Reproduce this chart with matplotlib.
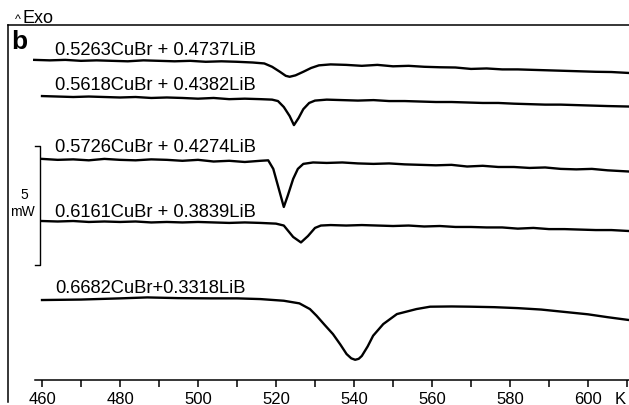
import matplotlib.pyplot as plt
import numpy as np

plt.rcParams['font.family'] = ['Liberation Sans', 'DejaVu Sans']

# DSC traces, heat flow in mW relative to the start of each trace (endo down)
t1 = [458, 462, 466, 470, 474, 478, 482, 486, 490, 494, 498, 502, 506, 510, 514, 517, 519, 521, 522.5, 523.5,
      525, 527, 529, 531, 534, 538, 542, 546, 550, 554, 558, 562, 566, 570, 574, 578, 582, 586, 590, 594,
      598, 602, 606, 610.5]
q1 = [0, -0.02, 0, -0.04, -0.02, -0.04, -0.06, -0.02, -0.04, -0.06, -0.04, -0.08, -0.06, -0.08, -0.11, -0.15,
      -0.29, -0.50, -0.67, -0.71, -0.65, -0.50, -0.34, -0.23, -0.19, -0.21, -0.25, -0.21, -0.27, -0.25, -0.29,
      -0.31, -0.32, -0.38, -0.36, -0.40, -0.40, -0.42, -0.44, -0.46, -0.48, -0.50, -0.51, -0.55]

t2 = [460, 464, 468, 472, 476, 480, 484, 488, 492, 496, 500, 504, 508, 512, 516, 519, 520.5, 522, 523.5, 524.6,
      525.8, 527, 528.5, 530, 533, 537, 541, 545, 549, 553, 557, 561, 565, 569, 573, 577, 581, 585, 589, 593,
      597, 601, 605, 610.5]
q2 = [0, -0.02, -0.04, -0.02, -0.04, -0.06, -0.04, -0.08, -0.06, -0.08, -0.11, -0.08, -0.13, -0.11, -0.13,
      -0.15, -0.21, -0.46, -0.84, -1.22, -0.92, -0.55, -0.29, -0.19, -0.15, -0.17, -0.19, -0.17, -0.21, -0.21,
      -0.23, -0.25, -0.25, -0.27, -0.29, -0.29, -0.32, -0.34, -0.36, -0.36, -0.38, -0.40, -0.42, -0.44]

t3 = [460, 464, 468, 472, 476, 480, 484, 488, 492, 496, 500, 504, 508, 512, 516, 518, 519.3, 520.5, 522, 523,
      524.4, 525.6, 527, 529.5, 533, 537, 541, 545, 549, 553, 557, 561, 565, 569, 573, 577, 581, 585, 589, 593,
      597, 601, 605, 610.5]
q3 = [0, -0.04, -0.02, -0.06, 0, -0.04, -0.06, -0.02, -0.04, -0.08, -0.04, -0.11, -0.08, -0.13, -0.08, -0.06,
      -0.42, -1.13, -2.02, -1.55, -0.84, -0.42, -0.21, -0.15, -0.17, -0.15, -0.19, -0.21, -0.19, -0.23, -0.25,
      -0.27, -0.25, -0.32, -0.29, -0.34, -0.34, -0.38, -0.36, -0.42, -0.44, -0.42, -0.48, -0.53]

t4 = [460, 464, 468, 472, 476, 480, 484, 488, 492, 496, 500, 504, 508, 512, 516, 520, 522, 524.4, 526.4, 528.2,
      530, 531.5, 534, 538, 542, 546, 550, 554, 558, 562, 566, 570, 574, 578, 582, 586, 590, 594, 598, 602,
      606, 610.5]
q4 = [0, -0.02, 0, -0.04, -0.02, -0.04, -0.02, -0.06, -0.04, -0.06, -0.04, -0.06, -0.08, -0.06, -0.08, -0.11,
      -0.19, -0.67, -0.90, -0.63, -0.29, -0.19, -0.17, -0.19, -0.17, -0.19, -0.21, -0.19, -0.23, -0.21, -0.25,
      -0.25, -0.27, -0.27, -0.32, -0.29, -0.34, -0.34, -0.36, -0.38, -0.38, -0.42]

t5 = [460, 470, 480, 487, 495, 503, 510, 516, 522, 526, 528.7, 530.4, 532.5, 534.6, 536.5, 538.1, 539.3, 540.3,
      541.2, 542, 543.5, 544.9, 547.5, 551, 556, 559.5, 565, 570, 576, 582, 588, 594, 600, 605, 610.5]
q5 = [0, 0.02, 0.07, 0.11, 0.08, 0.07, 0.07, 0.04, -0.03, -0.14, -0.38, -0.66, -1.05, -1.43, -1.87, -2.27,
      -2.45, -2.51, -2.47, -2.35, -1.95, -1.50, -1.01, -0.59, -0.38, -0.28, -0.27, -0.28, -0.30, -0.34, -0.40,
      -0.50, -0.60, -0.72, -0.84]

offsets = [13.45, 11.93, 9.29, 6.68, 3.36]
labels = ['0.5263CuBr + 0.4737LiB', '0.5618CuBr + 0.4382LiB', '0.5726CuBr + 0.4274LiB',
          '0.6161CuBr + 0.3839LiB', '0.6682CuBr+0.3318LiB']
label_y = [13.70, 12.23, 9.62, 6.89, 3.70]

scale_mw = 5
scale_bottom = 4.83

fig = plt.figure(figsize=(6.29, 4.06), dpi=100)
ax = fig.add_axes([8 / 629, 3 / 406, 652 / 629, 0.9286])

curves = [(t1, q1), (t2, q2), (t3, q3), (t4, q4), (t5, q5)]
for (t, q), off, lab, ly in zip(curves, offsets, labels, label_y):
    ax.plot(t, np.array(q) + off, color='black', lw=1.7, solid_joinstyle='round')
    ax.text(463.3, ly, lab, fontsize=13.2, va='baseline', ha='left')

ax.set_xlim(451.28, 618.46)
ax.set_ylim(-0.924, 14.916)

for s in ['top', 'left', 'bottom']:
    ax.spines[s].set_linewidth(1.1)
ax.spines['right'].set_visible(False)
ax.spines['bottom'].set_position(('data', 0))
ax.spines['bottom'].set_bounds(458.2, 618.46)

ax.set_xticks(np.arange(460, 601, 20))
ax.set_xticks(np.arange(470, 611, 20), minor=True)
ax.tick_params(axis='x', which='both', direction='out', length=5, width=1.1, labelsize=12, pad=3)
ax.set_yticks([])

# scale bar
sb_top = scale_bottom + scale_mw
ax.plot([458.2, 459.5, 459.5, 458.2], [sb_top, sb_top, scale_bottom, scale_bottom], color='black', lw=1.0)
ax.text(455.4, 7.65, str(scale_mw), fontsize=10, ha='center', va='baseline')
ax.text(455.0, 6.93, 'mW', fontsize=10, ha='center', va='baseline')

ax.text(452.0, 13.95, 'b', fontsize=19, fontweight='bold', va='baseline', ha='left')
ax.text(453.0, 15.04, '^', fontsize=9, va='baseline', ha='left', clip_on=False)
ax.text(454.9, 15.04, 'Exo', fontsize=13, va='baseline', ha='left', clip_on=False)
ax.text(608.2, -0.95, 'K', fontsize=12, va='baseline', ha='center', clip_on=False)

fig.savefig('out.png', dpi=100)
